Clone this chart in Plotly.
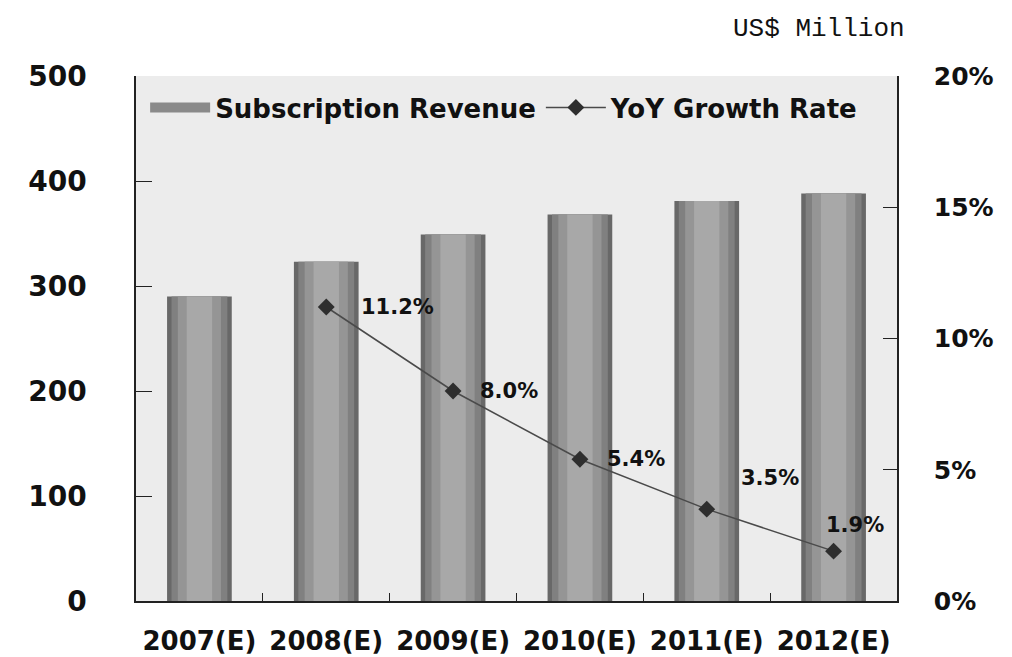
"""Subscription revenue with YoY growth (Plotly)"""
import plotly.graph_objects as go

# data
years = ["2007(E)", "2008(E)", "2009(E)", "2010(E)", "2011(E)", "2012(E)"]
revenue = [290, 323, 349, 368, 381, 388]
growth_years = ["2008(E)", "2009(E)", "2010(E)", "2011(E)", "2012(E)"]
growth = [11.2, 8.0, 5.4, 3.5, 1.9]
left_ticks = [0, 100, 200, 300, 400, 500]
right_ticks = [0, 5, 10, 15, 20]

FONT = "DejaVu Sans"

fig = go.Figure()

# legend entry for the bars (wide bar icon like the original)
fig.add_trace(go.Scatter(
    x=[None], y=[None], mode="lines", name="Subscription Revenue",
    line=dict(color="#8a8a8a", width=13), legendgroup="rev",
))

# bars: several overlaid layers to fake a cylinder shading
layers = [(0.51, "#686868"), (0.44, "#808080"), (0.34, "#959595"), (0.2, "#a8a8a8")]
for w, c in layers:
    fig.add_trace(go.Bar(
        x=years, y=revenue, width=w,
        marker=dict(color=c, line=dict(width=0)),
        name="Subscription Revenue", legendgroup="rev",
        showlegend=False,
    ))

# growth line
fig.add_trace(go.Scatter(
    x=growth_years, y=growth, yaxis="y2",
    mode="lines+markers",
    name="YoY Growth Rate",
    line=dict(color="#4a4a4a", width=1.5),
    marker=dict(symbol="diamond", size=13, color="#2e2e2e"),
))

# labels for the growth points
label_shift = [(33, 0), (25, 0), (25, 0), (32, 31), (-10, 26)]
for xv, yv, (dx, dy) in zip(growth_years, growth, label_shift):
    fig.add_annotation(
        x=xv, y=yv, yref="y2", text=f"{yv:.1f}%", showarrow=False,
        xanchor="left", yanchor="middle", xshift=dx, yshift=dy,
        font=dict(family=FONT, size=21, color="#111111", weight="bold"),
    )

fig.add_annotation(
    x=1.0135, y=1.09, xref="paper", yref="paper", text="US$ Million",
    showarrow=False, xanchor="right", yanchor="middle",
    font=dict(family="Liberation Mono", size=26, color="#111111"),
)

# page body has an 8px margin, so the figure is shrunk by that much
fig.update_layout(
    width=1004, height=649,
    margin=dict(l=128, r=115, t=68, b=56),
    paper_bgcolor="white",
    plot_bgcolor="#ececec",
    barmode="overlay",
    showlegend=True,
    legend=dict(
        orientation="h", x=0.012, y=0.94, xanchor="left", yanchor="middle",
        bgcolor="rgba(0,0,0,0)",
        font=dict(family=FONT, size=26, color="#111111", weight="bold"),
        itemwidth=60,
    ),
    xaxis=dict(
        type="category", showgrid=False, showline=True, linecolor="#222222",
        linewidth=1.5, ticks="inside", tickson="boundaries", ticklen=8,
        tickcolor="#222222", ticklabelstandoff=16, automargin=False,
        tickfont=dict(family=FONT, size=26, color="#111111", weight="bold"),
    ),
    yaxis=dict(
        range=[0, 500], tickvals=left_ticks, showgrid=False, zeroline=False,
        showline=True, linecolor="#222222", linewidth=1.5, automargin=False,
        ticks="inside", ticklen=16, tickcolor="#222222", ticklabelstandoff=42,
        tickfont=dict(family=FONT, size=28, color="#111111", weight="bold"),
    ),
    yaxis2=dict(
        range=[0, 20], tickvals=right_ticks,
        ticktext=[f"{v}%" for v in right_ticks],
        overlaying="y", side="right", showgrid=False, zeroline=False,
        showline=True, linecolor="#222222", linewidth=1.5, automargin=False,
        ticks="inside", ticklen=14, tickcolor="#222222", ticklabelstandoff=30,
        tickfont=dict(family=FONT, size=25, color="#111111", weight="bold"),
    ),
)

fig.write_html("out.html")
